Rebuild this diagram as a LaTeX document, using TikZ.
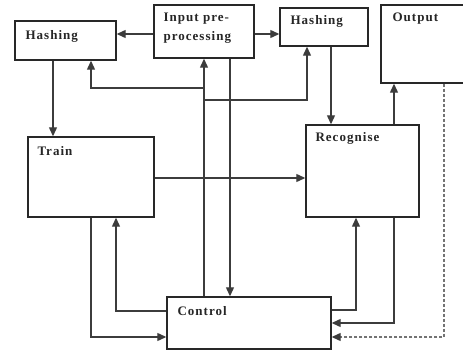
\documentclass[tikz,border=0pt]{standalone}
\usepackage{fontspec}
\setmainfont{Liberation Serif}[LetterSpace=8]
\usetikzlibrary{arrows.meta,positioning}
\definecolor{boxLine}{RGB}{40,40,40}
\definecolor{wireGray}{RGB}{60,60,60}

\begin{document}
\begin{tikzpicture}[
  x=1pt, y=-1pt,
  box/.style={
    draw=boxLine,
    line width=1.4pt,
    inner sep=0pt,
    fill=white
  },
  tag/.style={
    anchor=north west,
    inner sep=0pt,
    align=left,
    text=black!85,
    font=\bfseries\fontsize{13}{19}\selectfont
  },
  arrow/.style={-{Triangle[length=9pt,width=8pt]},line width=1.2pt,wireGray}
]
  \useasboundingbox (0,0) rectangle (463,350);
  \clip (0,0) rectangle (463,350);

  \node[box,minimum width=101,minimum height=39,
    label={[tag,xshift=11pt,yshift=-10pt]north west:Hashing}] (hashL) at (65.5,40.5) {};
  \node[box,minimum width=100,minimum height=53,
    label={[tag,xshift=10pt,yshift=-8pt]north west:Input pre-\\processing}] (input) at (204,31.5) {};
  \node[box,minimum width=88,minimum height=38,
    label={[tag,xshift=11pt,yshift=-8pt]north west:Hashing}] (hashR) at (324,27) {};
  \node[box,minimum width=94,minimum height=78,
    label={[tag,xshift=12pt,yshift=-8pt]north west:Output}] (output) at (428,44) {};
  \node[box,minimum width=126,minimum height=80,
    label={[tag,xshift=10pt,yshift=-10pt]north west:Train}] (train) at (91,177) {};
  \node[box,minimum width=113,minimum height=92,
    label={[tag,xshift=10pt,yshift=-8pt]north west:Recognise}] (recog) at (362.5,171) {};
  \node[box,minimum width=164,minimum height=52,
    label={[tag,xshift=11pt,yshift=-10pt]north west:Control}] (control) at (249,323) {};

  % forward path
  \draw[arrow] (input.west |- 0,34) -- (hashL.east |- 0,34);
  \draw[arrow] (input.east |- 0,34) -- (hashR.west |- 0,34);
  \draw[arrow] (hashL.south -| 53,0) -- (train.north -| 53,0);
  \draw[arrow] (hashR.south -| 331,0) -- (recog.north -| 331,0);
  \draw[arrow] (recog.north -| 394,0) -- (output.south -| 394,0);
  \draw[arrow] (train.east |- 0,178) -- (recog.west |- 0,178);
  \draw[arrow] (input.south -| 230,0) -- (control.north -| 230,0);

  % control feedback
  \coordinate (tapL) at (204,88);
  \coordinate (tapR) at (204,100);
  \draw[arrow] (control.north -| input.south) -- (input.south);
  \draw[arrow] (tapL) -| (hashL.south -| 91,0);
  \draw[arrow] (tapR) -| (hashR.south -| 307,0);
  \draw[arrow] (control.west |- 0,311) -| (train.south -| 116,0);
  \draw[arrow] (train.south) |- (control.west |- 0,337);
  \draw[arrow] (control.east |- 0,310) -| (recog.south -| 356,0);
  \draw[arrow] (recog.south -| 394,0) |- (control.east |- 0,323);
  \draw[-{Triangle[length=9pt,width=8pt,color=wireGray]},line width=1.2pt,
    black!55,dash pattern=on 3pt off 2pt] (output.south -| 444,0) |- (control.east |- 0,337);
\end{tikzpicture}
\end{document}
